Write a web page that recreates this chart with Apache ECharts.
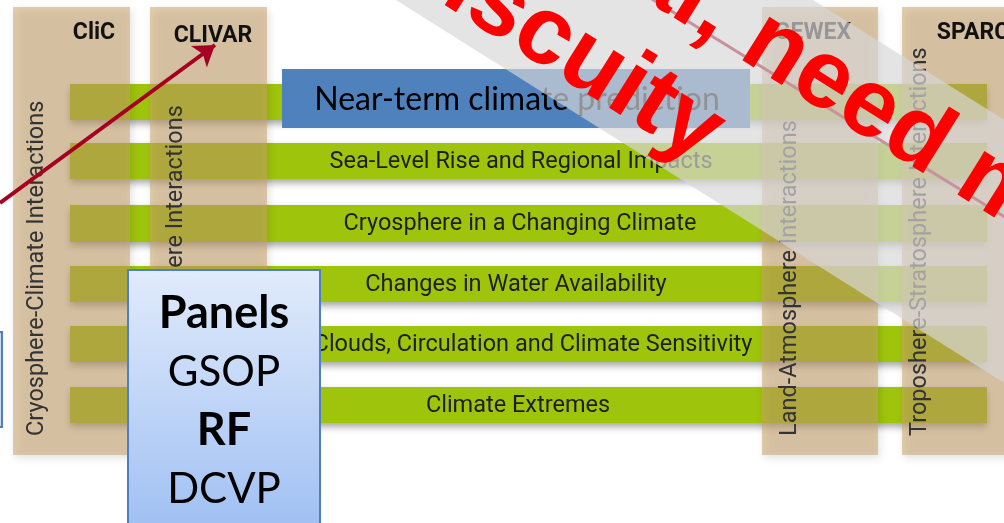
<!DOCTYPE html>
<html>
<head>
<meta charset="utf-8">
<script src="https://cdn.jsdelivr.net/npm/echarts@6/dist/echarts.min.js"></script>
<style>
html,body{margin:0;padding:0;background:#ffffff;overflow:hidden}
#chart{width:1004px;height:523px}
</style>
</head>
<body>
<div id="chart"></div>
<script>
// ---- Diagram data (in diagram units on hidden value axes: x 0..1004, y 0..523 downward) ----
const columnNames = ['CliC', 'CLIVAR', 'GEWEX', 'SPARC'];
const columnThemes = ['Cryosphere-Climate Interactions', 'Ocean-Atmosphere Interactions', 'Land-Atmosphere Interactions', 'Troposhere-Stratosphere Interactions'];
const columnLeft = [13, 150, 762, 902];
const columnRight = [130, 267, 878, 1040];
const columnHeaderX = [94, 213, 813, 973];
const columnHeaderY = [33, 36, 33, 33];
const columnThemeX = [37, 176, 790, 920];
const columnSpanY = [7, 455];
const columnThemeBaseY = 436;

const themeNames = ['', 'Sea-Level Rise and Regional Impacts', 'Cryosphere in a Changing Climate', 'Changes in Water Availability', 'Clouds, Circulation and Climate Sensitivity', 'Climate Extremes'];
const themeTop = [84, 143, 205, 266, 326, 387];
const themeBottom = [120, 179, 242, 302, 362, 423];
const themeSpanX = [70, 987];
const themeLabelX = [521, 521, 520, 516, 533, 518];

const predictionLabel = 'Near-term climate prediction';
const predictionBox = [282, 69, 750, 128];
const predictionLabelX = 517;

const panelLines = ['Panels', 'GSOP', 'RF', 'DCVP'];
const panelBold = [true, false, true, false];
const panelLineY = [313, 372, 430, 489];
const panelBox = [128, 270, 320, 540];
const sideBox = [-30, 332, 2, 427];

const arrowPath = [[0, 203], [215, 45]];
const hiddenLinePath = [[600, -33], [1060, 251]];
const bandPolygon = [[380, -10], [797, -10], [1030, 136], [1030, 399]];

const stampPrefix = ['Informal,', 'promi'];
const stampSuffix = ['need more', 'scuity'];
const stampPrefixAnchor = [[728, 20], [476, -7]];
const stampSuffixAnchor = [[751, 34], [476, -7]];
const stampAngle = -32;

// ---- Chart ----
const chart = echarts.init(document.getElementById('chart'), null, { renderer: 'canvas' });
const DIN = 'Roboto, "DejaVu Sans", sans-serif';
const CAL = 'Lato, "Open Sans", sans-serif';

function box(api, x0, y0, x1, y1) {
  const p0 = api.coord([x0, y0]);
  const p1 = api.coord([x1, y1]);
  return { x: p0[0], y: p0[1], width: p1[0] - p0[0], height: p1[1] - p0[1] };
}

const option = {
  animation: false,
  backgroundColor: '#ffffff',
  grid: { left: 0, right: 0, top: 0, bottom: 0 },
  xAxis: { type: 'value', min: 0, max: 1004, show: false },
  yAxis: { type: 'value', min: 0, max: 523, inverse: true, show: false },
  series: [
    {
      // Cross-cutting theme bars
      type: 'custom', z: 1, clip: false,
      data: themeNames.map((n, i) => [themeSpanX[0], themeTop[i], themeSpanX[1], themeBottom[i], themeLabelX[i]]),
      renderItem: function (params, api) {
        const r = box(api, api.value(0), api.value(1), api.value(2), api.value(3));
        const c = api.coord([api.value(4), (api.value(1) + api.value(3)) / 2]);
        return {
          type: 'group',
          children: [
            { type: 'rect', shape: r, style: { fill: '#9FC40C', shadowBlur: 7, shadowOffsetY: 4, shadowColor: 'rgba(0,0,0,0.35)' } },
            { type: 'text', x: c[0], y: c[1] + 1, style: { text: themeNames[params.dataIndex], fill: '#1e1e1e', fontSize: 23.5, fontFamily: DIN, align: 'center', verticalAlign: 'middle' } }
          ]
        };
      }
    },
    {
      // Core project columns
      type: 'custom', z: 2, clip: false,
      data: columnNames.map((n, i) => [columnLeft[i], columnSpanY[0], columnRight[i], columnSpanY[1], columnHeaderX[i], columnHeaderY[i], columnThemeX[i]]),
      renderItem: function (params, api) {
        const i = params.dataIndex;
        const r = box(api, api.value(0), api.value(1), api.value(2), api.value(3));
        const h = api.coord([api.value(4), api.value(5)]);
        const t = api.coord([api.value(6), columnThemeBaseY]);
        return {
          type: 'group',
          children: [
            { type: 'rect', shape: r, style: { fill: 'rgba(203,162,108,0.54)', shadowBlur: 8, shadowOffsetX: 2, shadowOffsetY: 3, shadowColor: 'rgba(0,0,0,0.22)' } },
            { type: 'text', x: h[0], y: h[1], style: { text: columnNames[i], fill: '#111111', fontSize: 23, fontWeight: 'bold', fontFamily: DIN, align: 'center', verticalAlign: 'middle' } },
            { type: 'text', x: t[0], y: t[1], rotation: Math.PI / 2, style: { text: columnThemes[i], fill: '#333333', fontSize: 23.5, fontFamily: DIN, align: 'left', verticalAlign: 'middle' } }
          ]
        };
      }
    },
    {
      // Near-term prediction box
      type: 'custom', z: 3, clip: false,
      data: [predictionBox],
      renderItem: function (params, api) {
        const r = box(api, api.value(0), api.value(1), api.value(2), api.value(3));
        const c = api.coord([predictionLabelX, (api.value(1) + api.value(3)) / 2]);
        return {
          type: 'group',
          children: [
            { type: 'rect', shape: r, style: { fill: '#4F81BD' } },
            { type: 'text', x: c[0], y: c[1] + 1, style: { text: predictionLabel, fill: '#000000', fontSize: 32, fontFamily: CAL, align: 'center', verticalAlign: 'middle' } }
          ]
        };
      }
    },
    {
      // Panels box and side box
      type: 'custom', z: 4, clip: false,
      data: [panelBox, sideBox],
      renderItem: function (params, api) {
        const r = box(api, api.value(0), api.value(1), api.value(2), api.value(3));
        const grad = new echarts.graphic.LinearGradient(0, 0, 0, 1, [
          { offset: 0, color: '#E1EBFC' }, { offset: 1, color: '#9DBEF2' }
        ]);
        const children = [
          { type: 'rect', shape: r, style: { fill: params.dataIndex === 0 ? grad : '#C6D8F4', stroke: '#4F7FC0', lineWidth: 2 } }
        ];
        if (params.dataIndex === 0) {
          const cx = (api.value(0) + api.value(2)) / 2;
          panelLines.forEach(function (s, k) {
            const p = api.coord([cx, panelLineY[k]]);
            children.push({ type: 'text', x: p[0], y: p[1], style: { text: s, fill: '#000000', fontSize: panelBold[k] ? 45 : 42, fontWeight: panelBold[k] ? 'bold' : 'normal', fontFamily: CAL, align: 'center', verticalAlign: 'middle' } });
          });
        }
        return { type: 'group', children: children };
      }
    },
    {
      // Red arrow to CLIVAR
      type: 'lines', coordinateSystem: 'cartesian2d', z: 5,
      symbol: ['none', 'arrow'], symbolSize: 20,
      lineStyle: { color: '#A50021', width: 4, opacity: 1 },
      data: [{ coords: arrowPath }]
    },
    {
      // Red line lying under the translucent band
      type: 'lines', coordinateSystem: 'cartesian2d', z: 6,
      symbol: ['none', 'none'],
      lineStyle: { color: '#A50021', width: 3, opacity: 1 },
      data: [{ coords: hiddenLinePath }]
    },
    {
      // Translucent band
      type: 'custom', z: 7, clip: false,
      data: [[0]],
      renderItem: function (params, api) {
        return { type: 'polygon', shape: { points: bandPolygon.map(function (p) { return api.coord(p); }) }, style: { fill: 'rgba(215,215,215,0.68)' } };
      }
    },
    {
      // Red stamp text
      type: 'custom', z: 8, clip: false,
      data: stampPrefix.map(function (s, i) { return [stampPrefixAnchor[i][0], stampPrefixAnchor[i][1], stampSuffixAnchor[i][0], stampSuffixAnchor[i][1]]; }),
      renderItem: function (params, api) {
        const i = params.dataIndex;
        const a = api.coord([api.value(0), api.value(1)]);
        const b = api.coord([api.value(2), api.value(3)]);
        const rot = stampAngle * Math.PI / 180;
        const st = { fill: '#FF0000', fontSize: 97, fontWeight: 'bold', fontFamily: '"Liberation Sans", Arial, sans-serif', verticalAlign: 'middle' };
        return {
          type: 'group',
          children: [
            { type: 'text', x: a[0], y: a[1], rotation: rot, style: Object.assign({ text: stampPrefix[i], align: 'right' }, st) },
            { type: 'text', x: b[0], y: b[1], rotation: rot, style: Object.assign({ text: stampSuffix[i], align: 'left' }, st) }
          ]
        };
      }
    }
  ]
};
chart.setOption(option);
</script>
</body>
</html>
